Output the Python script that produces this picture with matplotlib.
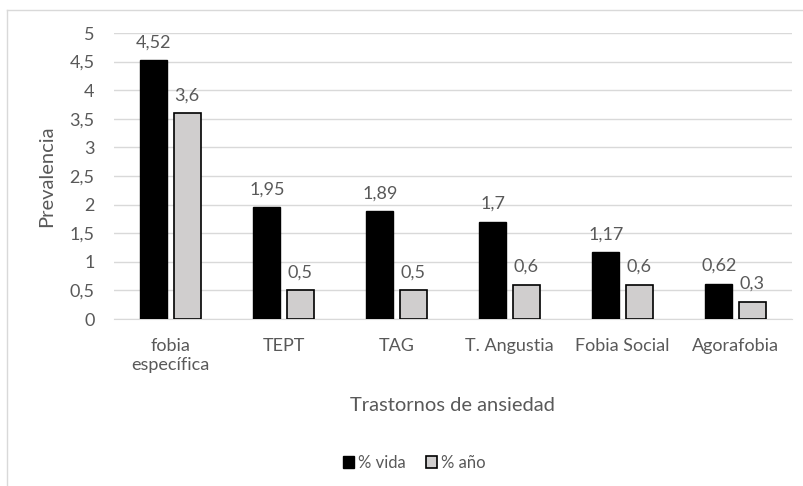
import matplotlib
matplotlib.use("Agg")
import matplotlib.pyplot as plt
import numpy as np
from matplotlib.lines import Line2D

categories = ["fobia\nespecífica", "TEPT", "TAG", "T. Angustia", "Fobia Social", "Agorafobia"]
vida = [4.52, 1.95, 1.89, 1.7, 1.17, 0.62]
anio = [3.6, 0.5, 0.5, 0.6, 0.6, 0.3]
yticks = [0, 0.5, 1, 1.5, 2, 2.5, 3, 3.5, 4, 4.5, 5]

plt.rcParams['font.family'] = ['Lato', 'DejaVu Sans']
txt = '#595959'

fig = plt.figure(figsize=(8.04, 4.86), dpi=100)
ax = fig.add_axes([114/804, 1-319/486, (792-114)/804, (319-33)/486])

# chart border
fig.add_artist(Line2D([7/804, 7/804], [0, 1-10/486], transform=fig.transFigure, color='#d9d9d9', lw=1))
fig.add_artist(Line2D([7/804, 1], [1-10/486, 1-10/486], transform=fig.transFigure, color='#d9d9d9', lw=1))

x = np.arange(len(categories))
w = 0.24
gap = 0.055
b1 = ax.bar(x - (w+gap)/2, vida, w, color='black', edgecolor='black', lw=1, label='% vida', zorder=3)
b2 = ax.bar(x + (w+gap)/2, anio, w, color='#d0cece', edgecolor='black', lw=1.2, label='% año', zorder=3)

def fmt(v):
    return ('%g' % v).replace('.', ',')

for bars, vals in ((b1, vida), (b2, anio)):
    for r, v in zip(bars, vals):
        ax.annotate(fmt(v), (r.get_x()+r.get_width()/2, v), xytext=(0, 7), textcoords='offset points',
                    ha='center', va='bottom', fontsize=13, color=txt)

ax.set_xlim(-0.5, len(categories)-0.5)
ax.set_ylim(0, 5)
ax.set_yticks(yticks)
ax.set_yticklabels([fmt(t) for t in yticks], fontsize=13, color=txt)
ax.set_xticks(x)
ax.set_xticklabels(categories, fontsize=13, color=txt, linespacing=1.2)
ax.tick_params(length=0, pad=14)
ax.tick_params(axis='x', pad=14)
ax.grid(axis='y', color='#d9d9d9', lw=1, zorder=0)
for s in ['top', 'right', 'left']:
    ax.spines[s].set_visible(False)
ax.spines['bottom'].set_color('#d9d9d9')
ax.set_ylabel('Prevalencia', fontsize=14.5, color=txt, labelpad=10)

fig.text(452/804, 1-405/486, 'Trastornos de ansiedad', ha='center', va='center', fontsize=14.5, color=txt)

leg = fig.legend(handles=[b1, b2], loc='center', bbox_to_anchor=(414/804, 1-463/486), ncol=2, frameon=False,
                 fontsize=12, handlelength=0.7, handleheight=0.7, handletextpad=0.2, columnspacing=1.2)
for t in leg.get_texts():
    t.set_color(txt)

fig.savefig('out.png', dpi=100)
